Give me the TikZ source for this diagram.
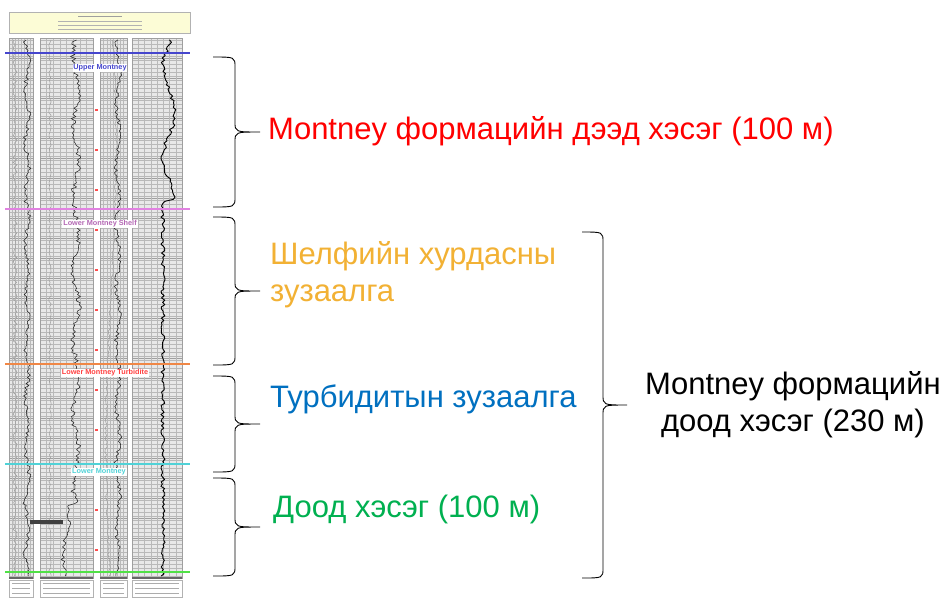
\documentclass[tikz,border=0pt]{standalone}
\usepackage{fontspec}
\setmainfont{Liberation Sans}
\usetikzlibrary{positioning}
\definecolor{uppercol}{RGB}{255,0,0}
\definecolor{shelfcol}{RGB}{242,177,52}
\definecolor{turbcol}{RGB}{0,112,192}
\definecolor{basecol}{RGB}{0,176,80}
\definecolor{headfill}{RGB}{252,252,214}
\definecolor{topblue}{RGB}{70,70,205}
\definecolor{shelfpink}{RGB}{225,130,225}
\definecolor{turborange}{RGB}{240,135,70}
\definecolor{lowcyan}{RGB}{80,210,215}
\definecolor{basegreen}{RGB}{80,225,70}

\begin{document}
\begin{tikzpicture}[x=1pt,y=-1pt]
\tikzstyle{bigtext} = [font=\fontsize{31}{37}\selectfont, anchor=west, inner sep=0pt]
\tikzstyle{tag} = [fill=white, inner sep=0.8pt, font=\fontsize{7.3}{8}\selectfont\bfseries]
\tikzstyle{gridline} = [gray!55, line width=0.3pt]
\tikzstyle{logcurve} = [black!85, line width=0.55pt]
\tikzstyle{bracepath} = [draw, black, line width=0.9pt]
\tikzstyle{topline} = [line width=1.2pt]
\useasboundingbox (0,0) rectangle (941,598);
\fill[white] (0,0) rectangle (941,598);

% log header
\draw[gray!60, fill=headfill] (9,12) rectangle (190,33);
\draw[gray!75, line width=0.9pt] (78,16) -- (122,16);
\foreach \yy in {21,25,29}
  \draw[gray!60, line width=0.6pt] (58,\yy) -- (142,\yy);

% log tracks with grid
\foreach \xa/\xb in {9/33, 40/93, 100/127, 132/182} {
  \fill[gray!18] (\xa,38) rectangle (\xb,578);
  \foreach \yy in {40,44,...,576}
    \draw[gridline] (\xa,\yy) -- (\xb,\yy);
  \foreach \yy in {58,78,...,578}
    \draw[gridline, gray!75] (\xa,\yy) -- (\xb,\yy);
  \pgfmathsetmacro\w{(\xb-\xa)/8}
  \foreach \k in {1,...,7}
    \draw[gridline] ({\xa+\k*\w},38) -- ({\xa+\k*\w},578);
  \draw[gray!75, line width=0.4pt] (\xa,38) rectangle (\xb,578);
}

% log curves
\pgfmathsetseed{17}
\draw[logcurve, gray!75] plot[variable=\dep, domain=40:576, samples=220, smooth] ({15+2*rand}, {\dep});
\draw[logcurve] plot[variable=\dep, domain=40:576, samples=260, smooth] ({27+2*sin(7*\dep)+2*rand}, {\dep});
\draw[logcurve, gray!75] plot[variable=\dep, domain=40:576, samples=200, smooth] ({50+1.2*rand}, {\dep});
\draw[logcurve] plot[variable=\dep, domain=40:576, samples=260, smooth] ({76-10*(\dep>505)+3*sin(5*\dep)+2.5*rand}, {\dep});
\draw[logcurve, gray!75] plot[variable=\dep, domain=40:576, samples=200, smooth] ({111+5*sin(0.6*\dep)+1.2*rand}, {\dep});
\draw[logcurve] plot[variable=\dep, domain=40:576, samples=260, smooth] ({118+2*sin(6*\dep)+2*rand}, {\dep});
\draw[logcurve, black, line width=0.9pt] plot[variable=\dep, domain=40:576, samples=240, smooth] ({163+(6+6*sin(4*\dep))*(\dep<200)+2*rand}, {\dep});
\fill[black!75] (30,520) rectangle (63,524);

% depth marks
\foreach \yy in {110,150,...,550}
  \fill[red!70] (94.5,\yy-1) rectangle (97.5,\yy+1);

% footer
\foreach \xa/\xb in {9/33, 40/93, 100/127, 132/182} {
  \fill[black!60] (\xa,577) rectangle (\xb,579);
  \draw[gray!60, fill=white] (\xa,580) rectangle (\xb,597);
  \foreach \yy in {583,588,593}
    \draw[gray!65, line width=0.6pt] ({\xa+3},\yy) -- ({\xb-3},\yy);
}

% formation tops
\draw[topline, topblue] (5,53) -- (190,53);
\draw[topline, shelfpink] (5,209) -- (190,209);
\draw[topline, turborange] (5,364) -- (190,364);
\draw[topline, lowcyan] (5,464) -- (190,464);
\draw[topline, basegreen] (5,572) -- (190,572);
\node[tag, text=topblue] (uppertag) at (100,68) {Upper Montney};
\node[tag, text=shelfpink!80!black] (shelftag) at (100,224) {Lower Montney Shelf};
\node[tag, text=red!75] (turbtag) at (105,373) {Lower Montney Turbidite};
\node[tag, text=lowcyan] (lowtag) at (99,472) {Lower Montney};

% braces
\foreach \xl/\xm/\xt/\ytop/\ybot [count=\i] in {213/235/260/57/207, 213/235/260/217/365,
    213/235/260/376/472, 213/235/260/478/576, 582/603/627/232/578} {
  \pgfmathsetmacro\ym{(\ytop+\ybot)/2}
  \draw[bracepath] (\xl,\ytop) .. controls (\xm,\ytop) .. (\xm,\ytop+10)
    -- (\xm,\ym-10) .. controls (\xm,\ym) .. (\xt,\ym)
    .. controls (\xm,\ym) .. (\xm,\ym+10) -- (\xm,\ybot-10)
    .. controls (\xm,\ybot) .. (\xl,\ybot);
  \coordinate (tip\i) at (\xt,\ym);
}

% labels
\node[bigtext, text=uppercol, right=8pt of tip1, yshift=1pt] (uppertxt) {Montney формацийн дээд хэсэг (100 м)};
\node[bigtext, text=shelfcol, align=left, right=10pt of tip2, yshift=16pt] (shelftxt) {Шелфийн хурдасны\\зузаалга};
\node[bigtext, text=turbcol, right=10pt of tip3, yshift=25pt] (turbtxt) {Турбидитын зузаалга};
\node[bigtext, text=basecol, right=13pt of tip4, yshift=18pt] (basetxt) {Доод хэсэг (100 м)};
\node[bigtext, align=center, right=18pt of tip5] (lowertxt) {Montney формацийн\\доод хэсэг (230 м)};
\end{tikzpicture}
\end{document}
